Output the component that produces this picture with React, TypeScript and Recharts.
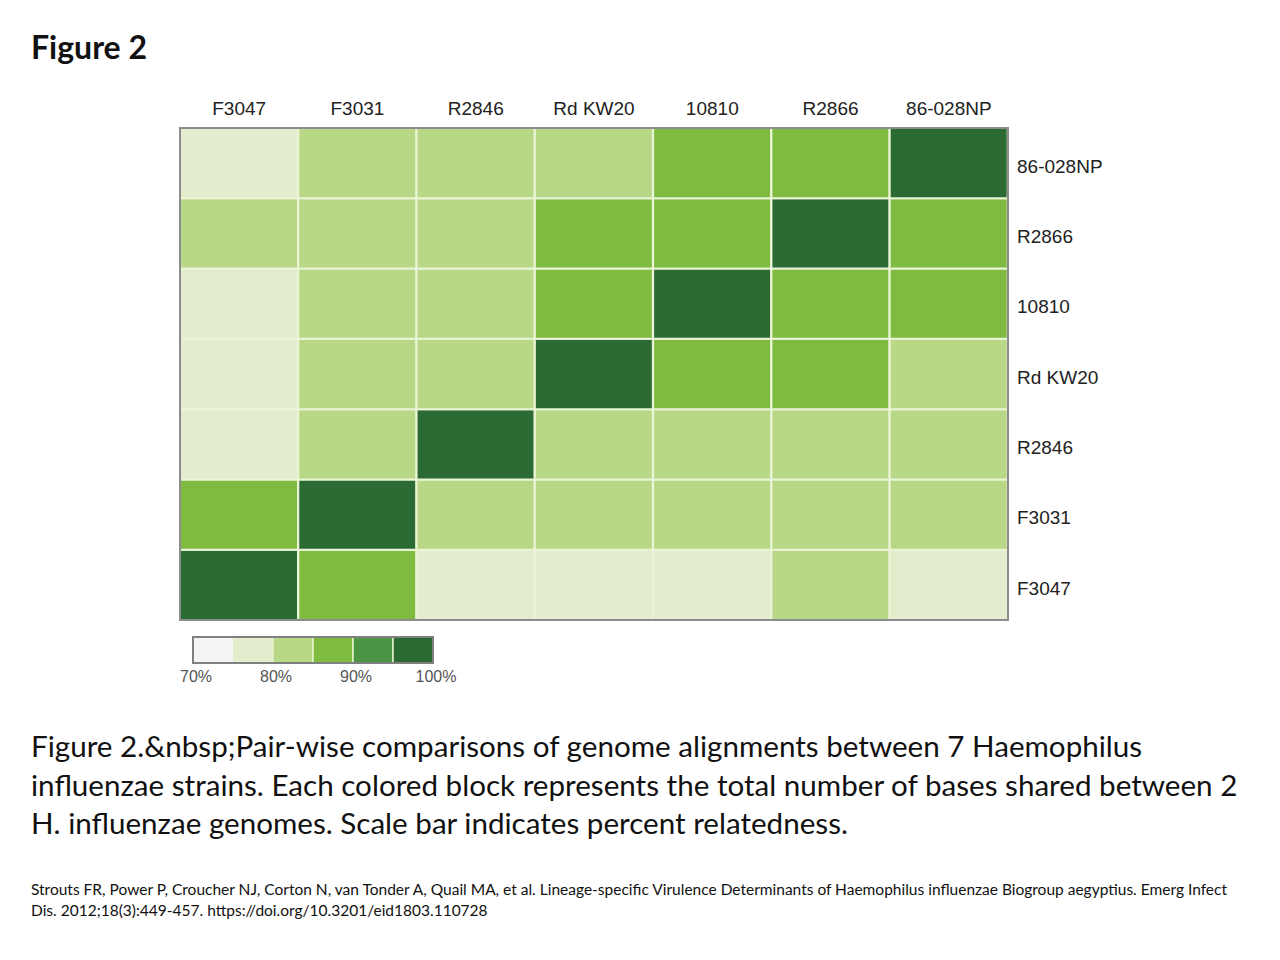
import React from "react";
import { BarChart, Bar, XAxis, YAxis, Cell } from "recharts";

const columns = ["F3047", "F3031", "R2846", "Rd KW20", "10810", "R2866", "86-028NP"];
// rows listed bottom to top
const rowLabels = ["F3047", "F3031", "R2846", "Rd KW20", "10810", "R2866", "86-028NP"];
const rowF3047 = [100, 88, 78, 78, 78, 83, 78];
const rowF3031 = [88, 100, 83, 83, 83, 83, 83];
const rowR2846 = [78, 83, 100, 83, 83, 83, 83];
const rowRdKW20 = [78, 83, 83, 100, 88, 88, 83];
const row10810 = [78, 83, 83, 88, 100, 88, 88];
const rowR2866 = [83, 83, 83, 88, 88, 100, 88];
const row86028NP = [78, 83, 83, 83, 88, 88, 100];
const rows = [rowF3047, rowF3031, rowR2846, rowRdKW20, row10810, rowR2866, row86028NP];

const legendStops = [70, 75, 80, 85, 90, 95, 100];
const legendColors = ["#f5f5f3", "#e4ecce", "#b9d887", "#80bb41", "#4a9644", "#2b6a33"];
const legendTicks = ["70%", "80%", "90%", "100%"];

const colorFor = (v: number) => {
  for (let i = legendColors.length - 1; i >= 0; i--) {
    if (v >= legendStops[i]) return legendColors[i];
  }
  return legendColors[0];
};

const data = columns.map((c) => {
  const o: any = { col: c };
  rows.forEach((_, i) => {
    o["r" + i] = 1;
  });
  return o;
});

const yTicks = rowLabels.map((_, i) => i + 0.5);

const labelFont = "'Liberation Sans', Arial, sans-serif";

export default function App() {
  return (
    <div style={{ position: "absolute", left: 0, top: 0, width: 1280, height: 960, background: "#fff", fontFamily: "Lato, sans-serif" }}>
      <div style={{ position: "absolute", left: 31, top: 27, fontSize: 32, fontWeight: 700, color: "#111" }}>Figure 2</div>
      <div style={{ position: "absolute", left: 0, top: 0 }}>
        <BarChart
          width={1280}
          height={960}
          data={data}
          margin={{ top: 98, right: 152, bottom: 340, left: 180 }}
          barCategoryGap={0}
        >
          <XAxis
            dataKey="col"
            orientation="top"
            type="category"
            height={30}
            axisLine={false}
            tickLine={false}
            tickSize={0}
            tickMargin={13}
            tick={{ fontSize: 19, fill: "#222", fontFamily: labelFont }}
            interval={0}
          />
          <YAxis
            type="number"
            orientation="right"
            domain={[0, 7]}
            ticks={yTicks}
            tickFormatter={(v: number) => rowLabels[Math.floor(v)]}
            width={120}
            axisLine={false}
            tickLine={false}
            tickSize={0}
            tickMargin={9}
            tick={{ fontSize: 19, fill: "#222", fontFamily: labelFont, textAnchor: "start", dy: 3 }}
            interval={0}
          />
          {rows.map((row, i) => (
            <Bar key={i} dataKey={"r" + i} stackId="a" isAnimationActive={false} stroke="#eaf4d6" strokeWidth={2}>
              {row.map((v, j) => (
                <Cell key={j} fill={colorFor(v)} />
              ))}
            </Bar>
          ))}
        </BarChart>
      </div>
      <div style={{ position: "absolute", left: 179, top: 127, width: 830, height: 494, border: "2px solid #8c8c8c", boxSizing: "border-box", pointerEvents: "none" }} />
      <svg style={{ position: "absolute", left: 170, top: 628 }} width={300} height={64}>
        {legendColors.map((c, i) => (
          <rect key={i} x={23 + i * 40} y={9} width={40} height={26} fill={c} stroke={i >= 2 ? "#e6f5cc" : "none"} strokeWidth={1.5} />
        ))}
        <rect x={23} y={9} width={240} height={26} fill="none" stroke="#808080" strokeWidth={2} />
        {legendTicks.map((t, k) => (
          <text key={t} x={26 + k * 80} y={54} textAnchor="middle" fontSize={16} fill="#555" fontFamily={labelFont}>{t}</text>
        ))}
      </svg>
      <div style={{ position: "absolute", left: 31, top: 727, fontSize: 29.6, lineHeight: "38.5px", color: "#111", whiteSpace: "nowrap" }}>
        Figure 2.&amp;nbsp;Pair-wise comparisons of genome alignments between 7 Haemophilus<br />
        influenzae strains. Each colored block represents the total number of bases shared between 2<br />
        H. influenzae genomes. Scale bar indicates percent relatedness.
      </div>
      <div style={{ position: "absolute", left: 31, top: 879, fontSize: 15.5, lineHeight: "21px", color: "#111", whiteSpace: "nowrap" }}>
        Strouts FR, Power P, Croucher NJ, Corton N, van Tonder A, Quail MA, et al. Lineage-specific Virulence Determinants of Haemophilus influenzae Biogroup aegyptius. Emerg Infect<br />
        Dis. 2012;18(3):449-457. https://doi.org/10.3201/eid1803.110728
      </div>
    </div>
  );
}
